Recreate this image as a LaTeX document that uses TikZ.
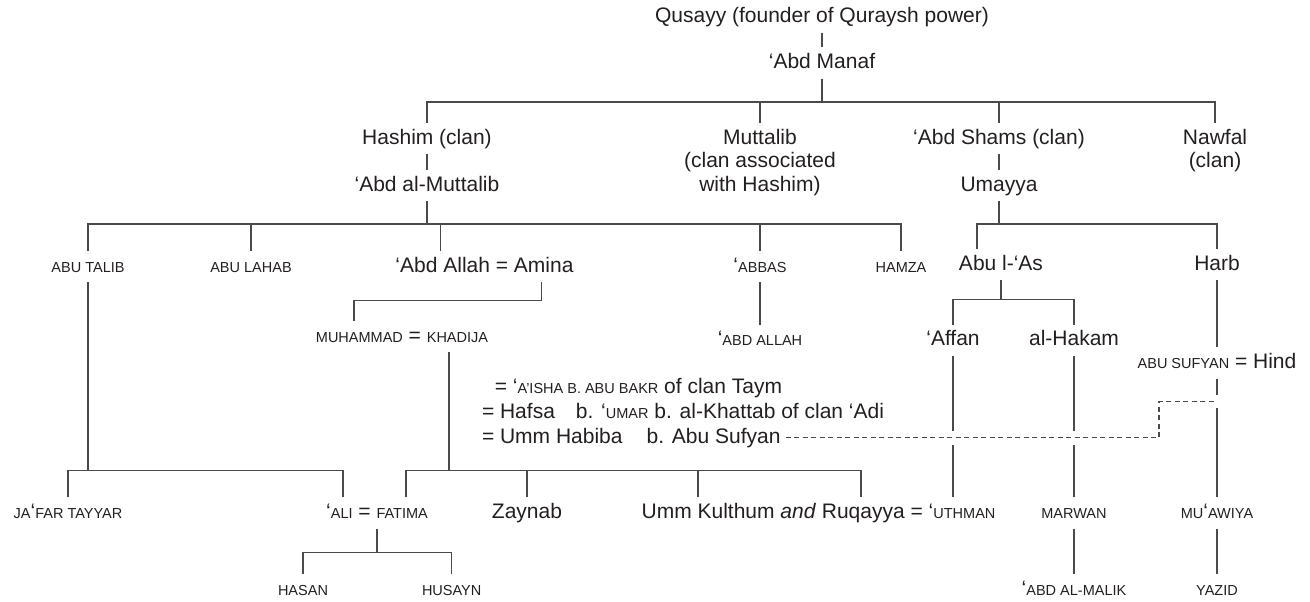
\documentclass[tikz,border=0pt]{standalone}
\usepackage{fontspec}
\setmainfont{Liberation Sans}
\usepackage{tikz}
\usetikzlibrary{positioning}
\definecolor{ink}{HTML}{231F20}
\definecolor{rule}{HTML}{4A4A4A}
\newcommand{\smc}[1]{{\fontsize{14.5}{17}\selectfont #1}}
\tikzstyle{person} = [anchor=base, inner xsep=5pt, inner ysep=6pt, text height=15pt, text depth=4pt, text=ink, font=\fontsize{21}{23.3}\selectfont]
\tikzstyle{clan} = [anchor=north, align=center, inner sep=6pt, text=ink, font=\fontsize{21}{23.3}\selectfont]
\tikzstyle{wife} = [person, anchor=base west]
\tikzstyle{kin} = [draw=rule, line width=1.1pt]

\begin{document}
\begin{tikzpicture}[x=1pt, y=-1pt]
  \useasboundingbox (0,0) rectangle (1310,602);
  % ancestors
  \node[person] (qusayy) at (822,22.5) {Qusayy (founder of Quraysh power)};
  \node[person] (manaf) at (822,68.5) {‘Abd Manaf};
  \node[person] (hashim) at (427,144) {Hashim (clan)};
  \node[clan] (muttalib) at (760,123) {Muttalib\\(clan associated\\with Hashim)};
  \node[person] (abdshams) at (999,144) {‘Abd Shams (clan)};
  \node[clan] (nawfal) at (1215,123) {Nawfal\\(clan)};
  \node[person] (abdmut) at (427,191) {‘Abd al-Muttalib};
  \node[person] (umayya) at (999,191) {Umayya};
  % sons of 'Abd al-Muttalib and Umayya
  \node[person] (abutalib) at (88,272) {\smc{ABU TALIB}};
  \node[person] (abulahab) at (251,272) {\smc{ABU LAHAB}};
  \node[person] (abdallah) at (484.5,272) {‘Abd Allah = Amina};
  \node[person] (abbas) at (760,272) {‘\smc{ABBAS}};
  \node[person] (hamza) at (901,272) {\smc{HAMZA}};
  \node[person] (abulas) at (1001,270) {Abu l-‘As};
  \node[person] (harb) at (1217,270) {Harb};
  % next generation
  \node[person] (muhammad) at (402,342) {\smc{MUHAMMAD} = \smc{KHADIJA}};
  \node[person] (abdallahb) at (760,345.7) {‘\smc{ABD ALLAH}};
  \node[person] (affan) at (953,345.7) {‘Affan};
  \node[person] (hakam) at (1074,345.7) {al-Hakam};
  \node[person] (abusufyan) at (1217,368.3) {\smc{ABU SUFYAN} = Hind};
  % other wives
  \node[wife] (aisha) at (489.7,393.3) {= ‘\smc{A’ISHA B. ABU BAKR} of clan Taym};
  \node[wife] (hafsa) at (476.8,418.3) {= Hafsa\hspace{21pt}b. ‘\smc{UMAR} b. al-Khattab of clan ‘Adi};
  \node[wife] (habiba) at (476.8,443.3) {= Umm Habiba\hspace{24pt}b. Abu Sufyan};
  % children
  \node[person] (jafar) at (68,518.5) {\smc{JA}‘\smc{FAR TAYYAR}};
  \node[person] (ali) at (377,518.5) {‘\smc{ALI} = \smc{FATIMA}};
  \node[person] (zaynab) at (527,518.5) {Zaynab};
  \node[person] (ukr) at (818.5,518.5) {Umm Kulthum \textit{and} Ruqayya = ‘\smc{UTHMAN}};
  \node[person] (marwan) at (1074,518.5) {\smc{MARWAN}};
  \node[person] (muawiya) at (1217,518.5) {\smc{MU}‘\smc{AWIYA}};
  \node[person] (hasan) at (303,595) {\smc{HASAN}};
  \node[person] (husayn) at (451.7,595) {\smc{HUSAYN}};
  \node[person] (abdalmalik) at (1074,595) {‘\smc{ABD AL-MALIK}};
  \node[person] (yazid) at (1217,595) {\smc{YAZID}};

  \coordinate (b1) at (0,102);
  \coordinate (b2) at (0,224);
  \coordinate (jog) at (1159,401.7);

  % Quraysh clans
  \draw[kin] (qusayy) -- (manaf);
  \draw[kin] (manaf.south) -- (manaf.south |- b1);
  \draw[kin] (hashim.north) |- (nawfal.north |- b1) -- (nawfal.north);
  \draw[kin] (muttalib.north) -- (muttalib.north |- b1);
  \draw[kin] (abdshams.north) -- (abdshams.north |- b1);
  \draw[kin] (hashim) -- (abdmut);
  \draw[kin] (abdshams) -- (umayya);
  % Hashim line
  \draw[kin] (abdmut.south) -- (abdmut.south |- b2);
  \draw[kin] (abutalib.north) |- (hamza.north |- b2) -- (hamza.north);
  \draw[kin] (abulahab.north) -- (abulahab.north |- b2);
  \draw[kin] ([xshift=-44pt]abdallah.north) -- ++(0,-27);
  \draw[kin] (abbas.north) -- (abbas.north |- b2);
  \draw[kin] (abbas) -- (abdallahb);
  \draw[kin] ([xshift=57pt]abdallah.south) -- ++(0,18) -| ([xshift=-48pt]muhammad.north);
  \draw[kin] ([xshift=47pt]muhammad.south) -- ++(0,118.7);
  \draw[kin] ([xshift=29pt]ali.north) -- ++(0,-26.8) -| ([xshift=42.5pt]ukr.north);
  \draw[kin] (zaynab.north) -- ++(0,-26.8);
  \draw[kin] ([xshift=-120.5pt]ukr.north) -- ++(0,-26.8);
  \draw[kin] (abutalib.south) -- ++(0,188.7);
  \draw[kin] (jafar.north) -- ++(0,-26.8) -| ([xshift=-34pt]ali.north);
  \draw[kin] (ali.south) -- ++(0,24.2);
  \draw[kin] (hasan.north) -- ++(0,-21.3) -| (husayn.north);
  % Umayyad line
  \draw[kin] (umayya.south) -- (umayya.south |- b2);
  \draw[kin] ([xshift=-24pt]abulas.north) |- (harb.north |- b2) -- (harb.north);
  \draw[kin] (abulas.south) -- ++(0,20);
  \draw[kin] (affan.north) -- ++(0,-24.7) -| (hakam.north);
  \draw[kin] (harb) -- (abusufyan);
  \draw[kin] (affan.south) -- ++(0,75.3);
  \draw[kin] ([xshift=134.5pt]ukr.north) -- ++(0,-52.5);
  \draw[kin] (hakam.south) -- ++(0,75.3);
  \draw[kin] (marwan.north) -- ++(0,-52.5);
  \draw[kin] (marwan) -- (abdalmalik);
  \draw[kin] (abusufyan.south) -- ++(0,16.7);
  \draw[kin] (muawiya.north) -- ++(0,-89.2);
  \draw[kin] (muawiya) -- (yazid);
  % Umm Habiba
  \draw[kin, dash pattern=on 5pt off 3.5pt] (habiba.east) -| (jog) -- (jog -| muawiya);
\end{tikzpicture}
\end{document}
